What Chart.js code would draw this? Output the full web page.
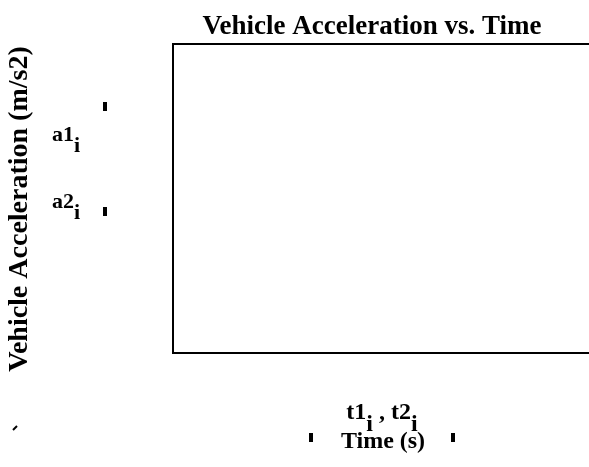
<!DOCTYPE html>
<html>
<head>
<meta charset="utf-8">
<script src="https://cdn.jsdelivr.net/npm/chart.js@4/dist/chart.umd.min.js"></script>
<style>
    html, body { margin: 0; padding: 0; background: #ffffff; }
    #wrap { width: 589px; height: 467px; }
</style>
</head>
<body>
<div id="wrap"><canvas id="accelChart" width="589" height="467"></canvas></div>
<script>
    // Mathcad style plot: the traces are empty, only the frame and labels show
    const chartTitle = 'Vehicle Acceleration vs. Time';
    const yTitle = 'Vehicle Acceleration (m/s2)';
    const xTitle = 'Time (s)';
    const ySeriesNames = ['a1', 'a2'];
    const xSeriesNames = ['t1', 't2'];
    const indexName = 'i';
    const a1 = [];
    const a2 = [];
    const t1 = [];
    const t2 = [];

    const FONT = '"Liberation Serif", "Times New Roman", serif';

    function pairs(xs, ys) {
        return xs.map(function (x, k) { return { x: x, y: ys[k] }; });
    }

    function setFont(ctx, size) {
        ctx.font = 'bold ' + size + 'px ' + FONT;
    }

    // "name" followed by a lowered subscript; returns the width used
    function subText(ctx, name, sub, x, y, size, drop, draw) {
        setFont(ctx, size);
        const w = ctx.measureText(name).width;
        const ws = ctx.measureText(sub).width;
        if (draw) {
            ctx.fillText(name, x, y);
            ctx.fillText(sub, x + w, y + drop);
        }
        return w + ws;
    }

    function placeholder(ctx, x, y) {
        ctx.fillRect(x, y, 4, 9);
    }

    const mathcadFrame = {
        id: 'mathcadFrame',
        afterDraw(chart) {
            const ctx = chart.ctx;
            const area = chart.chartArea;
            // the plot runs past the right edge of the picture
            const right = chart.width + 10;
            ctx.save();
            ctx.strokeStyle = '#000000';
            ctx.lineWidth = 2;
            ctx.beginPath();
            ctx.moveTo(right, area.top + 1);
            ctx.lineTo(area.left, area.top + 1);
            ctx.lineTo(area.left, area.bottom);
            ctx.lineTo(right, area.bottom);
            ctx.stroke();

            ctx.fillStyle = '#000000';
            ctx.textBaseline = 'alphabetic';

            // title
            setFont(ctx, 27);
            ctx.textAlign = 'center';
            ctx.fillText(chartTitle, 372, 34);

            // vertical axis title
            ctx.save();
            ctx.translate(27, 209);
            ctx.rotate(-Math.PI / 2);
            setFont(ctx, 28);
            ctx.fillText(yTitle, 0, 0);
            ctx.restore();

            // y trace names with placeholders
            ctx.textAlign = 'left';
            const rows = [141, 208];
            ySeriesNames.forEach(function (name, k) {
                subText(ctx, name, indexName, 52, rows[k], 22, 11, true);
            });
            placeholder(ctx, 103, 102);
            placeholder(ctx, 103, 207);

            // x trace names, centred as one group
            const size = 24;
            const base = 419;
            const w1 = subText(ctx, xSeriesNames[0], indexName, 0, 0, size, 12, false);
            setFont(ctx, size);
            const sep = ' , ';
            const ws = ctx.measureText(sep).width;
            const w2 = subText(ctx, xSeriesNames[1], indexName, 0, 0, size, 12, false);
            let x = 382 - (w1 + ws + w2) / 2;
            subText(ctx, xSeriesNames[0], indexName, x, base, size, 12, true);
            x += w1;
            setFont(ctx, size);
            ctx.fillText(sep, x, base);
            x += ws;
            subText(ctx, xSeriesNames[1], indexName, x, base, size, 12, true);

            setFont(ctx, size);
            ctx.textAlign = 'center';
            ctx.fillText(xTitle, 383, 448);
            placeholder(ctx, 309, 433);
            placeholder(ctx, 451, 433);

            // stray mark bottom left
            ctx.lineWidth = 2;
            ctx.beginPath();
            ctx.moveTo(13, 430);
            ctx.lineTo(17, 426);
            ctx.stroke();
            ctx.restore();
        }
    };

    new Chart(document.getElementById('accelChart'), {
        type: 'scatter',
        data: {
            datasets: [
                { label: 'a1', data: pairs(t1, a1), borderColor: '#cc0000', showLine: true },
                { label: 'a2', data: pairs(t2, a2), borderColor: '#0000cc', showLine: true }
            ]
        },
        options: {
            responsive: false,
            animation: false,
            layout: { padding: { left: 173, top: 43, right: 0, bottom: 114 } },
            plugins: {
                legend: { display: false },
                title: { display: false },
                tooltip: { enabled: false }
            },
            scales: {
                x: { display: false, min: 0, max: 1 },
                y: { display: false, min: 0, max: 1 }
            }
        },
        plugins: [mathcadFrame]
    });
</script>
</body>
</html>
